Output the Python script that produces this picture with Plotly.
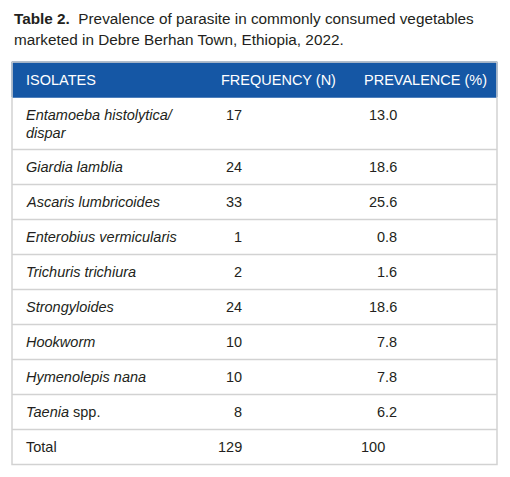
import plotly.graph_objects as go

# ---- data ----
title_bold = "Table 2."
title_lines = ["Prevalence of parasite in commonly consumed vegetables",
               "marketed in Debre Berhan Town, Ethiopia, 2022."]
headers = ["ISOLATES", "FREQUENCY (N)", "PREVALENCE (%)"]
isolates = [
    ["<i>Entamoeba histolytica/</i>", "<i>dispar</i>"],
    ["<i>Giardia lamblia</i>"],
    ["<i>Ascaris lumbricoides</i>"],
    ["<i>Enterobius vermicularis</i>"],
    ["<i>Trichuris trichiura</i>"],
    ["<i>Strongyloides</i>"],
    ["<i>Hookworm</i>"],
    ["<i>Hymenolepis nana</i>"],
    ["<i>Taenia</i> spp."],
]
frequency = [17, 24, 33, 1, 2, 24, 10, 10, 8]
prevalence = ["13.0", "18.6", "25.6", "0.8", "1.6", "18.6", "7.8", "7.8", "6.2"]
total_label = "Total"
total_freq = 129
total_prev = "100"

# ---- layout constants ----
W, H = 510, 477
FONT = "Liberation Sans, Arial, Helvetica, sans-serif"
TXT = "#231f20"
BLUE = "#1557a5"
GRID = "#d2d2d2"
X0, X1 = 12, 497
TOP = 62
HEAD_H = 35
ROW_BASE = 17.5
LINE_H = 17.5
COL_NAME_X = 24
FREQ_HEAD_X = 219
PREV_HEAD_X = 362
FREQ_R = 244
PREV_R = 399
TOTAL_PREV_R = 387
FS = 14.5
TFS = 15.3

fig = go.Figure()
ann = []
shapes = []

# title
ann.append(dict(x=X0, y=18, xref="x", yref="y", xanchor="left", yanchor="middle",
                text="<b>%s</b>  %s" % (title_bold, title_lines[0]), showarrow=False,
                font=dict(family=FONT, size=TFS, color=TXT)))
ann.append(dict(x=X0, y=39, xref="x", yref="y", xanchor="left", yanchor="middle",
                text=title_lines[1], showarrow=False,
                font=dict(family=FONT, size=TFS, color=TXT)))

# header
shapes.append(dict(type="rect", xref="x", yref="y", x0=X0, x1=X1, y0=TOP, y1=TOP + HEAD_H,
                   fillcolor=BLUE, line=dict(color=BLUE, width=1), layer="below"))
hy = TOP + HEAD_H / 2
for txt, x in zip(headers, [COL_NAME_X, FREQ_HEAD_X, PREV_HEAD_X]):
    ann.append(dict(x=x, y=hy, xref="x", yref="y", xanchor="left", yanchor="middle",
                    text=txt, showarrow=False, font=dict(family=FONT, size=FS, color="white")))

# rows
y = TOP + HEAD_H
rows = list(zip(isolates, [str(v) for v in frequency], prevalence))
rows.append(([total_label], str(total_freq), total_prev))
for i, (name_lines, f, p) in enumerate(rows):
    h = ROW_BASE + LINE_H * len(name_lines)
    if len(name_lines) == 1:
        first_y = y + h / 2
    else:
        first_y = y + 18
    for k, line in enumerate(name_lines):
        ann.append(dict(x=COL_NAME_X, y=first_y + 18 * k, xref="x", yref="y", xanchor="left",
                        yanchor="middle", text=line, showarrow=False,
                        font=dict(family=FONT, size=FS, color=TXT)))
    ann.append(dict(x=FREQ_R, y=first_y, xref="x", yref="y", xanchor="right", yanchor="middle",
                    text=f, showarrow=False, font=dict(family=FONT, size=FS, color=TXT)))
    is_total = i == len(rows) - 1
    ann.append(dict(x=TOTAL_PREV_R if is_total else PREV_R, y=first_y, xref="x", yref="y",
                    xanchor="right", yanchor="middle", text=p, showarrow=False,
                    font=dict(family=FONT, size=FS, color=TXT)))
    y += h
    if not is_total:
        shapes.append(dict(type="line", xref="x", yref="y", x0=X0, x1=X1, y0=y, y1=y,
                           line=dict(color=GRID, width=1.3)))

# outer border
shapes.append(dict(type="rect", xref="x", yref="y", x0=X0, x1=X1, y0=TOP, y1=y,
                   line=dict(color=GRID, width=1.5)))
shapes.append(dict(type="rect", xref="x", yref="y", x0=X0, x1=X1, y0=TOP, y1=TOP + HEAD_H,
                   fillcolor=BLUE, line=dict(color=BLUE, width=1), layer="below"))

fig.add_trace(go.Scatter(x=[0, W], y=[0, H], mode="markers", marker=dict(opacity=0),
                         hoverinfo="skip", showlegend=False))
fig.update_layout(
    width=W, height=H, autosize=False,
    margin=dict(l=0, r=0, t=0, b=0),
    paper_bgcolor="white", plot_bgcolor="white",
    xaxis=dict(range=[0, W], visible=False, fixedrange=True),
    yaxis=dict(range=[H, 0], visible=False, fixedrange=True),
    annotations=ann, shapes=shapes, showlegend=False,
)
fig.write_html("out.html", config={"displayModeBar": False},
               post_script="document.body.style.margin='0';document.body.style.overflow='hidden';")
